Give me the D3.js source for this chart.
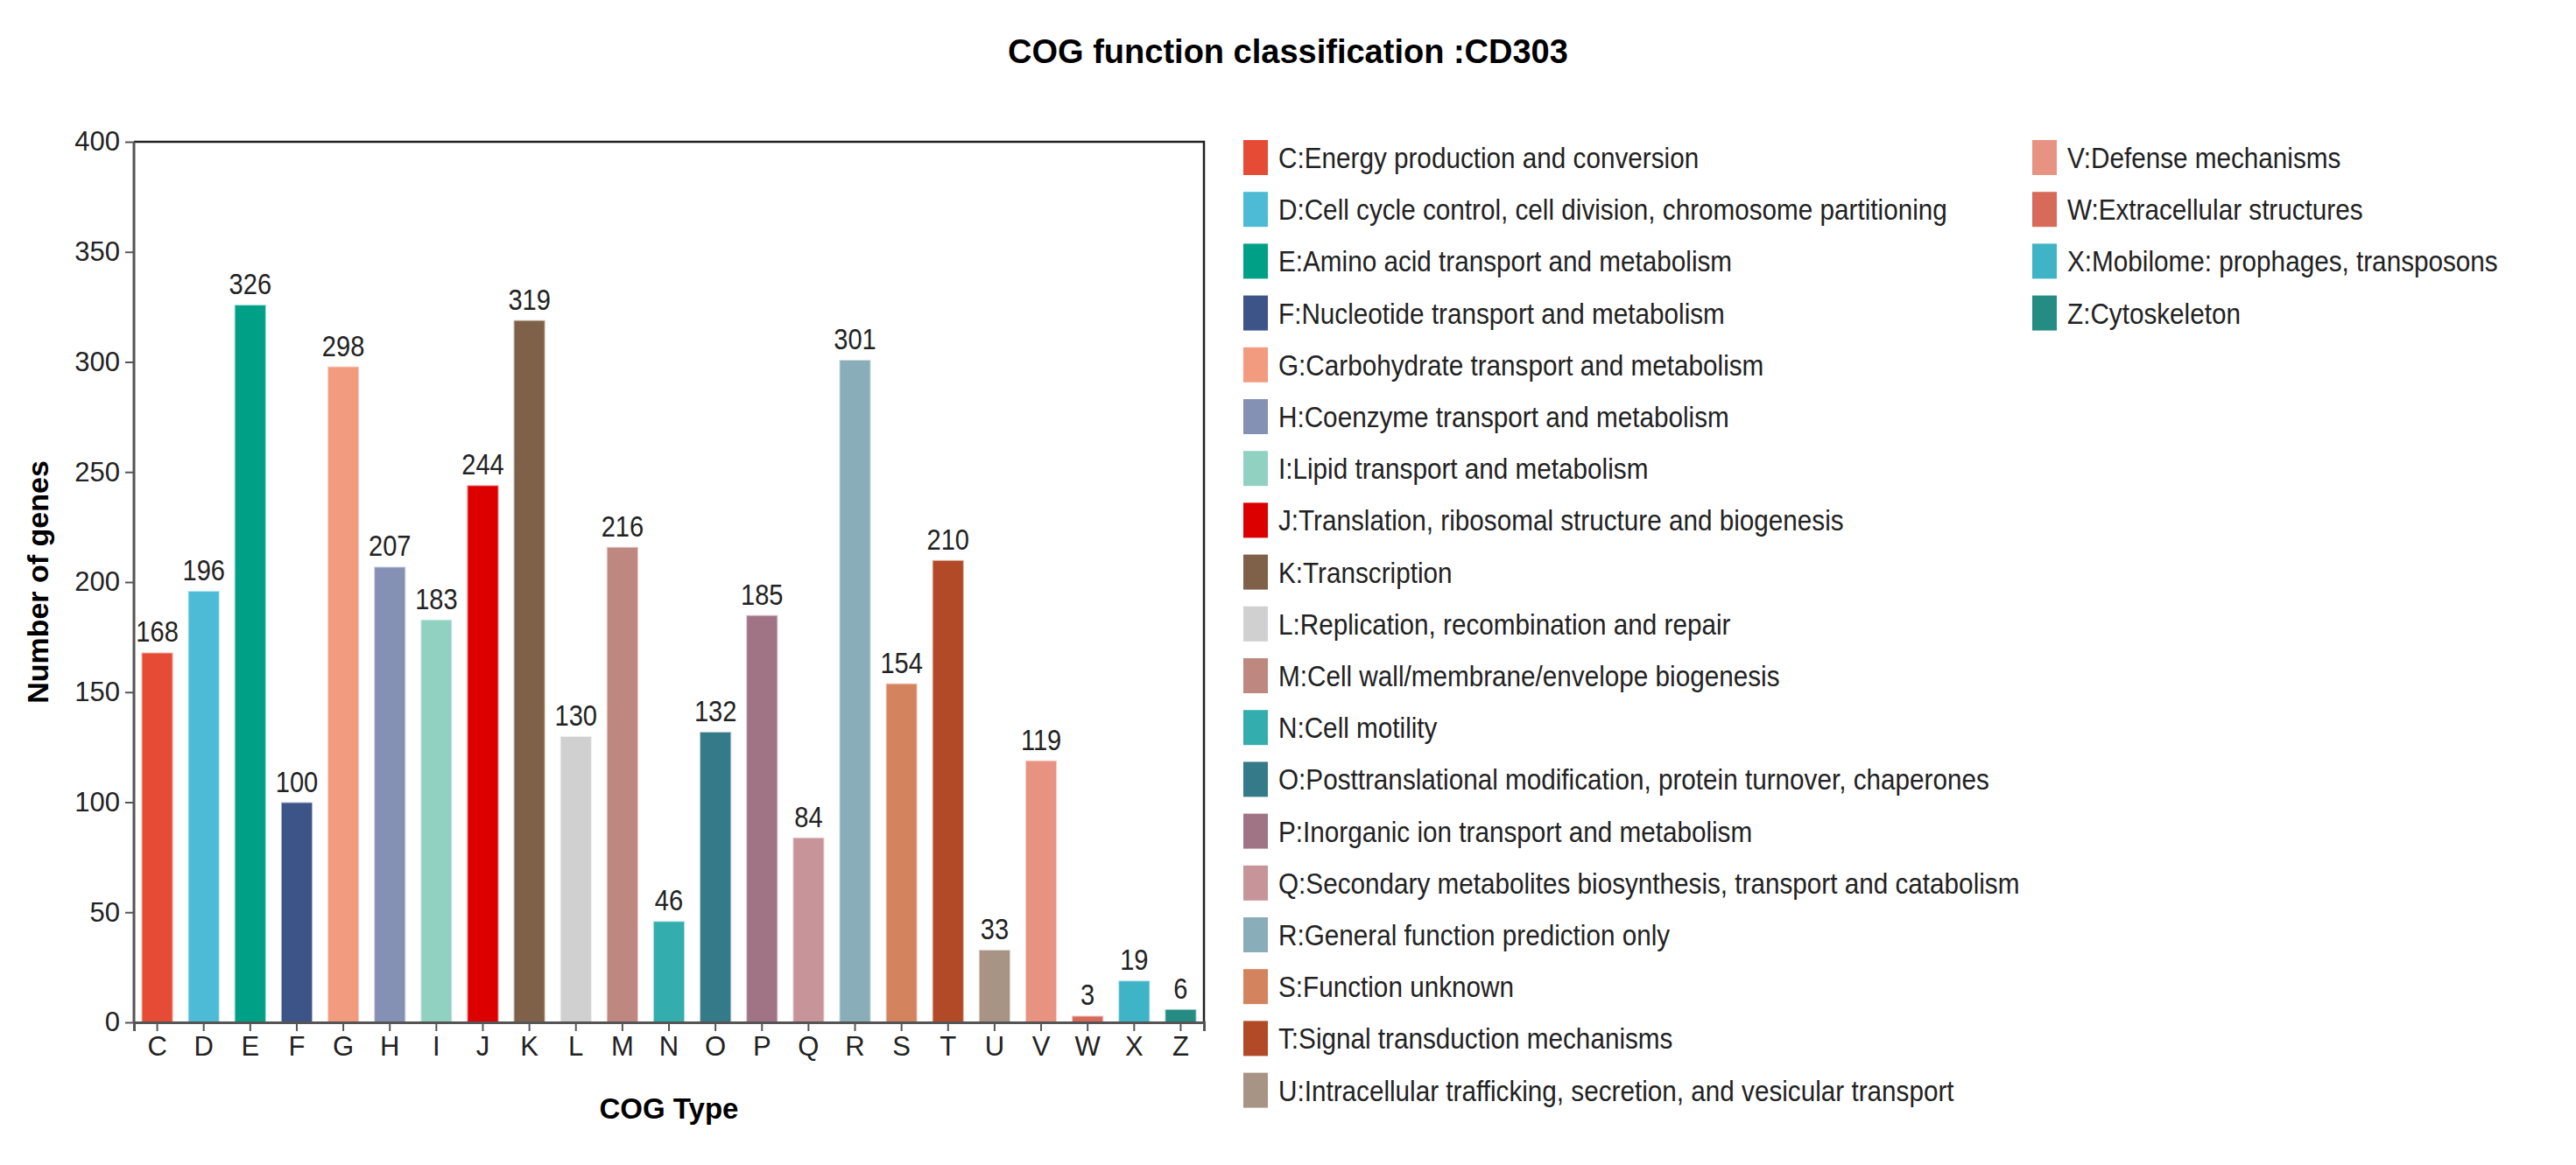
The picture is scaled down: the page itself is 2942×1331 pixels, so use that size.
<!DOCTYPE html>
<html><head><meta charset="utf-8">
<script src="https://cdn.jsdelivr.net/npm/d3@7"></script>
<style>body{margin:0;background:#fff}</style>
</head><body><svg id="chart" width="2942" height="1331"></svg>
<script>
const codes = ["C","D","E","F","G","H","I","J","K","L","M","N","O","P","Q","R","S","T","U","V","W","X","Z"];
const counts = [168,196,326,100,298,207,183,244,319,130,216,46,132,185,84,301,154,210,33,119,3,19,6];
const colors = ["#e64b35","#4dbbd5","#00a087","#3c5488","#f39b7f","#8491b4","#91d1c2","#dc0000","#7e6148","#d0d0d0",
  "#be877f","#33adad","#357a88","#a07485","#c79599","#8aaeb9","#d3845f","#b24a28","#a89484","#e89282",
  "#d86a5a","#3fb4c6","#248c82"];
const names = ["Energy production and conversion","Cell cycle control, cell division, chromosome partitioning",
  "Amino acid transport and metabolism","Nucleotide transport and metabolism","Carbohydrate transport and metabolism",
  "Coenzyme transport and metabolism","Lipid transport and metabolism","Translation, ribosomal structure and biogenesis",
  "Transcription","Replication, recombination and repair","Cell wall/membrane/envelope biogenesis","Cell motility",
  "Posttranslational modification, protein turnover, chaperones","Inorganic ion transport and metabolism",
  "Secondary metabolites biosynthesis, transport and catabolism","General function prediction only","Function unknown",
  "Signal transduction mechanisms","Intracellular trafficking, secretion, and vesicular transport","Defense mechanisms",
  "Extracellular structures","Mobilome: prophages, transposons","Cytoskeleton"];
const yTicks = [0,50,100,150,200,250,300,350,400];

const svg = d3.select("#chart");
const font = "'Liberation Sans',Arial,sans-serif";
const M = {l:153, r:1375, t:162, b:1168};

svg.append("text").attr("x", 1471).attr("y", 72).attr("text-anchor","middle")
  .attr("font-family",font).attr("font-weight","700").attr("font-size",38)
  .text("COG function classification :CD303");

const x = d3.scaleBand().domain(codes).range([M.l, M.r]).paddingInner(0.32).paddingOuter(0.16);
const y = d3.scaleLinear().domain([0,400]).range([M.b, M.t]);

// frame top/right
svg.append("path").attr("d", `M${M.l},${M.t}H${M.r}V${M.b}`).attr("fill","none").attr("stroke","#222").attr("stroke-width",2.5);

svg.selectAll(".bar").data(codes).enter().append("rect")
  .attr("x", d => x(d)).attr("width", x.bandwidth())
  .attr("y", (d,i) => y(counts[i])).attr("height", (d,i) => M.b - y(counts[i]))
  .attr("fill", (d,i) => colors[i]).attr("stroke","#fff").attr("stroke-opacity",0.6).attr("stroke-width",2);

// condensed-looking labels
svg.selectAll(".lab").data(codes).enter().append("text")
  .attr("transform", (d,i) => `translate(${x(d) + x.bandwidth()/2},${y(counts[i]) - 12}) scale(0.88,1)`)
  .attr("text-anchor","middle").attr("font-family",font).attr("font-size",33).attr("fill","#222")
  .text((d,i) => counts[i]);

const ya = svg.append("g").attr("transform",`translate(${M.l},0)`)
  .call(d3.axisLeft(y).tickValues(yTicks).tickSize(10).tickPadding(6));
const xa = svg.append("g").attr("transform",`translate(0,${M.b})`)
  .call(d3.axisBottom(x).tickSize(10).tickPadding(6));
[ya, xa].forEach(a => {
  a.select(".domain").attr("stroke","#555").attr("stroke-width",3);
  a.selectAll(".tick line").attr("stroke","#555").attr("stroke-width",2);
  a.selectAll("text").attr("font-family",font).attr("font-size",31).attr("fill","#222");
});
ya.select(".domain").attr("d", `M0,${M.b}V${M.t}`);

svg.append("text").attr("transform",`translate(55,${(M.t+M.b)/2}) rotate(-90)`).attr("text-anchor","middle")
  .attr("font-family",font).attr("font-weight","700").attr("font-size",34)
  .text("Number of genes");
svg.append("text").attr("x",(M.l+M.r)/2).attr("y",1278).attr("text-anchor","middle")
  .attr("font-family",font).attr("font-weight","700").attr("font-size",33)
  .text("COG Type");

const leg = svg.append("g");
const rowH = 59.2, perCol = 19;
const li = leg.selectAll("g").data(codes).enter().append("g")
  .attr("transform", (d,i) => `translate(${i < perCol ? 1420 : 2321},${160 + (i % perCol) * rowH})`);
li.append("rect").attr("width",28).attr("height",40).attr("fill",(d,i) => colors[i]);
li.append("text").attr("transform","translate(40,32) scale(0.9,1)").attr("font-family",font).attr("font-size",33).attr("fill","#222")
  .text((d,i) => d + ":" + names[i]);
</script></body></html>
